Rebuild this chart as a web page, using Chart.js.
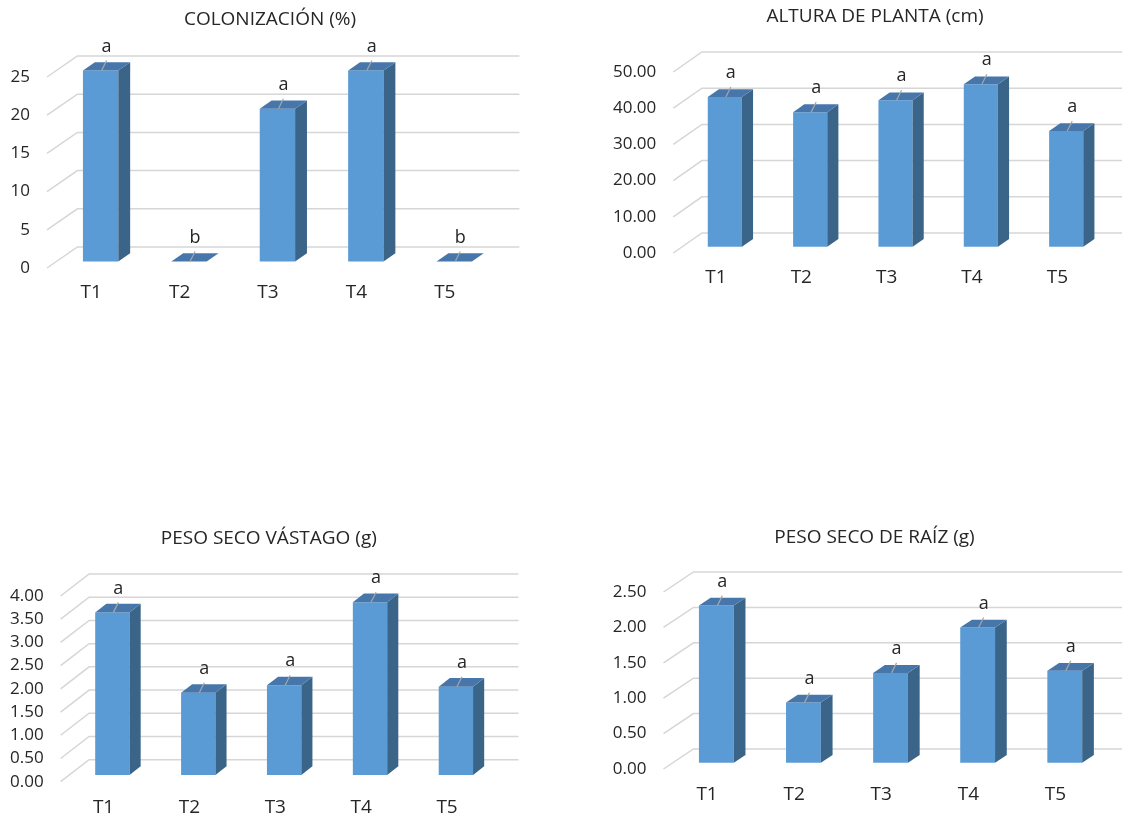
<!DOCTYPE html>
<html>
<head>
<meta charset="utf-8">
<script src="https://cdn.jsdelivr.net/npm/chart.js@4.4.1/dist/chart.umd.min.js"></script>
<style>
  html, body { margin: 0; padding: 0; width: 1122px; height: 818px; overflow: hidden; background: #ffffff; }
  canvas { position: absolute; display: block; }
</style>
</head>
<body>
<canvas id="colonizacion"></canvas>
<canvas id="altura"></canvas>
<canvas id="vastago"></canvas>
<canvas id="raiz"></canvas>
<script>
// Treatments and measured values
const categories = ['T1', 'T2', 'T3', 'T4', 'T5'];

const colonizacionTitle = 'COLONIZACIÓN (%)';
const colonizacionValues = [25, 0, 20, 25, 0];
const colonizacionLetters = ['a', 'b', 'a', 'a', 'b'];
const colonizacionTicks = [0, 5, 10, 15, 20, 25];

const alturaTitle = 'ALTURA DE PLANTA (cm)';
const alturaValues = [41.4, 37.2, 40.5, 44.9, 32.0];
const alturaLetters = ['a', 'a', 'a', 'a', 'a'];
const alturaTicks = [0, 10, 20, 30, 40, 50];

const vastagoTitle = 'PESO SECO VÁSTAGO (g)';
const vastagoValues = [3.50, 1.77, 1.93, 3.72, 1.90];
const vastagoLetters = ['a', 'a', 'a', 'a', 'a'];
const vastagoTicks = [0, 0.5, 1, 1.5, 2, 2.5, 3, 3.5, 4];

const raizTitle = 'PESO SECO DE RAÍZ (g)';
const raizValues = [2.22, 0.85, 1.27, 1.91, 1.30];
const raizLetters = ['a', 'a', 'a', 'a', 'a'];
const raizTicks = [0, 0.5, 1, 1.5, 2, 2.5];

const TEXT = '#262626';
const FONT = "'Open Sans', 'DejaVu Sans', sans-serif";
Chart.defaults.font.family = FONT;

// Pseudo-3D columns: back wall grid, translated front faces, top and side faces, letters, title
const box3d = {
  id: 'box3d',
  beforeDatasetsDraw(chart, args, o) {
    const { ctx, chartArea: a, scales: { y } } = chart;
    ctx.save();
    ctx.strokeStyle = o.gridColor;
    ctx.lineWidth = o.gridWidth;
    y.ticks.forEach(t => {
      const py = y.getPixelForValue(t.value);
      ctx.beginPath();
      ctx.moveTo(a.left, py);
      ctx.lineTo(a.left + o.dx, py + o.dy);
      ctx.lineTo(a.right + o.dx, py + o.dy);
      ctx.stroke();
    });
    ctx.restore();
    ctx.save();
    ctx.translate(o.front * o.dx, o.front * o.dy);
  },
  afterDatasetsDraw(chart, args, o) {
    const ctx = chart.ctx;
    const bx = o.depth * o.dx, by = o.depth * o.dy;
    const meta = chart.getDatasetMeta(0);
    meta.data.forEach((bar, i) => {
      const { x, y, base, width } = bar.getProps(['x', 'y', 'base', 'width'], true);
      const l = x - width / 2, r = x + width / 2;
      ctx.fillStyle = o.sideColor;
      ctx.beginPath();
      ctx.moveTo(r, y); ctx.lineTo(r + bx, y + by);
      ctx.lineTo(r + bx, base + by); ctx.lineTo(r, base);
      ctx.closePath(); ctx.fill();
      ctx.fillStyle = o.topColor;
      ctx.beginPath();
      ctx.moveTo(l, y); ctx.lineTo(r, y);
      ctx.lineTo(r + bx, y + by); ctx.lineTo(l + bx, y + by);
      ctx.closePath(); ctx.fill();
      // leader line and significance letter
      ctx.strokeStyle = o.leaderColor;
      ctx.lineWidth = 1.2;
      ctx.beginPath();
      ctx.moveTo(x + 1, y);
      ctx.lineTo(x + 6, y - 10);
      ctx.stroke();
      ctx.fillStyle = TEXT;
      ctx.font = '18px ' + FONT;
      ctx.textAlign = 'center';
      ctx.textBaseline = 'middle';
      ctx.fillText(o.letters[i], x + 6, y - 24);
    });
    ctx.restore();
  },
  afterDraw(chart, args, o) {
    const ctx = chart.ctx;
    ctx.save();
    ctx.fillStyle = TEXT;
    ctx.font = '19px ' + FONT;
    ctx.textAlign = 'center';
    ctx.textBaseline = 'middle';
    ctx.fillText(o.title, o.titleX, o.titleY);
    ctx.restore();
  }
};

function makeChart(id, spec) {
  const cv = document.getElementById(id);
  cv.width = spec.w; cv.height = spec.h;
  cv.style.left = spec.left + 'px';
  cv.style.top = spec.top + 'px';
  const a = spec.area;
  const tickLH = 19 * 1.2;
  return new Chart(cv, {
    type: 'bar',
    data: {
      labels: categories,
      datasets: [{
        data: spec.values,
        backgroundColor: '#5B9BD5',
        borderWidth: 0,
        categoryPercentage: 1,
        barPercentage: 0.4,
        clip: false
      }]
    },
    options: {
      responsive: false,
      animation: false,
      events: [],
      layout: { padding: { left: 0, right: spec.w - a.right, top: a.top, bottom: 0 } },
      plugins: {
        legend: { display: false },
        tooltip: { enabled: false },
        title: { display: false },
        box3d: {
          dx: spec.dx, dy: spec.dy, front: 0.31, depth: 0.39,
          gridColor: '#d6d6d6', gridWidth: 1.5,
          topColor: '#4777aa', sideColor: '#3a6488', leaderColor: '#a6a6a6',
          letters: spec.letters,
          title: spec.title, titleX: spec.titleX, titleY: spec.titleY
        }
      },
      scales: {
        x: {
          grid: { display: false, drawTicks: false },
          border: { display: false },
          ticks: { color: TEXT, font: { size: 19 }, maxRotation: 0, padding: spec.labelY - a.bottom - tickLH / 2 },
          afterFit(s) { s.height = spec.h - a.bottom; }
        },
        y: {
          min: 0,
          max: spec.ticks[spec.ticks.length - 1],
          grid: { display: false, drawTicks: false },
          border: { display: false },
          afterBuildTicks(s) { s.ticks = spec.ticks.map(v => ({ value: v })); },
          ticks: {
            autoSkip: false,
            color: TEXT,
            font: { size: 17 },
            padding: 17,
            callback: v => Number(v).toFixed(spec.decimals)
          },
          afterFit(s) { s.width = a.left; }
        }
      }
    },
    plugins: [box3d]
  });
}

makeChart('colonizacion', {
  left: 0, top: 0, w: 540, h: 320,
  area: { left: 47, right: 489, top: 77, bottom: 268 },
  titleX: 270, titleY: 20, labelY: 293, dx: 30.4, dy: -21, decimals: 0,
  title: colonizacionTitle, values: colonizacionValues, letters: colonizacionLetters, ticks: colonizacionTicks
});

makeChart('altura', {
  left: 600, top: 0, w: 550, h: 320,
  area: { left: 73.3, right: 500, top: 72, bottom: 253 },
  titleX: 275, titleY: 16.7, labelY: 278, dx: 28.6, dy: -20, decimals: 2,
  title: alturaTitle, values: alturaValues, letters: alturaLetters, ticks: alturaTicks
});

makeChart('vastago', {
  left: 0, top: 490, w: 538, h: 328,
  area: { left: 60.6, right: 490, top: 106, bottom: 291.7 },
  titleX: 268.8, titleY: 48.3, labelY: 317.3, dx: 28.5, dy: -22, decimals: 2,
  title: vastagoTitle, values: vastagoValues, letters: vastagoLetters, ticks: vastagoTicks
});

makeChart('raiz', {
  left: 600, top: 490, w: 549, h: 328,
  area: { left: 63.5, right: 499, top: 102, bottom: 279 },
  titleX: 274.5, titleY: 47.3, labelY: 305, dx: 30, dy: -20, decimals: 2,
  title: raizTitle, values: raizValues, letters: raizLetters, ticks: raizTicks
});
</script>
</body>
</html>
